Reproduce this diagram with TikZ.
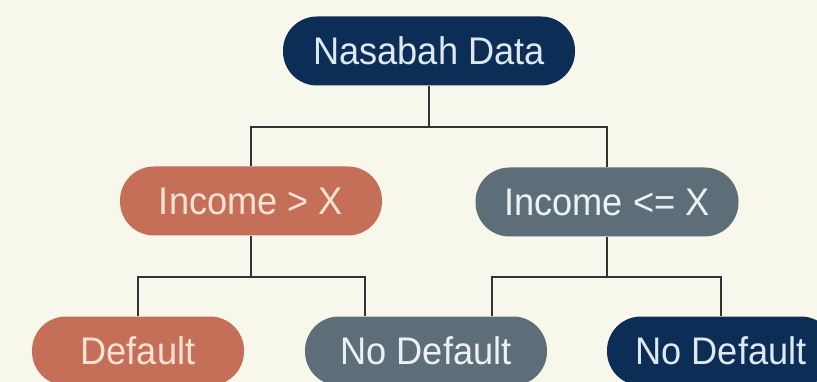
\documentclass[tikz,border=0pt]{standalone}
\usepackage{fontspec}
\setmainfont[FakeStretch=0.94]{Liberation Sans}
\definecolor{paper}{HTML}{F8F7EB}
\definecolor{navy}{HTML}{0C2E56}
\definecolor{terra}{HTML}{C66F58}
\definecolor{slate}{HTML}{5E6E79}
\definecolor{wire}{HTML}{2F3438}
\definecolor{navytext}{HTML}{DDE8F0}
\definecolor{terratext}{HTML}{F8E2D4}
\definecolor{slatetext}{HTML}{EEF1F2}
\tikzset{
  pill/.style={rectangle, rounded corners=34pt, minimum height=69pt,
    inner sep=0pt, font=\fontsize{38.5}{44}\selectfont},
  navypill/.style={pill, fill=navy, text=navytext},
  terrapill/.style={pill, fill=terra, text=terratext},
  slatepill/.style={pill, fill=slate, text=slatetext},
  conn/.style={draw=wire, line width=2.8pt, line join=miter}
}
\begin{document}
\begin{tikzpicture}[x=1pt, y=-1pt]
  \fill[paper] (0,0) rectangle (817,382);
  \useasboundingbox (0,0) rectangle (817,382);
  \clip (0,0) rectangle (817,382);

  % tree nodes
  \node[navypill,  minimum width=292pt] (root) at (429,51)  {Nasabah Data};
  \node[terrapill, minimum width=262pt] (hi)   at (251,201) {Income > X};
  \node[slatepill, minimum width=263pt] (lo)   at (607,202) {Income <= X};
  \node[terrapill, minimum width=212pt] (d1)   at (138,351) {Default};
  \node[slatepill, minimum width=242pt] (d2)   at (426,351) {No Default};
  \node[navypill,  minimum width=228pt] (d3)   at (721,351) {No Default};

  % junction points of the elbow connectors
  \coordinate (j1) at (429,127);
  \coordinate (j2) at (251,277);
  \coordinate (j3) at (607,277);

  % connectors
  \draw[conn] (root.south) -- (j1);
  \draw[conn] (hi.north) |- (j1) -| (lo.north);
  \draw[conn] (hi.south) -- (j2);
  \draw[conn] (d1.north) |- (j2) -| ([xshift=-61pt]d2.north);
  \draw[conn] (lo.south) -- (j3);
  \draw[conn] ([xshift=66pt]d2.north) |- (j3) -| (d3.north);
\end{tikzpicture}
\end{document}
